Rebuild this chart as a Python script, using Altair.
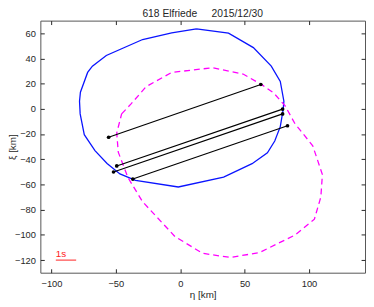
import altair as alt
import pandas as pd

# Blue solid outline (eta, xi) in km
blue_eta = [12.6, 37.5, 56.8, 70.7, 77.7, 80.5, 80.0, 77.7, 73.4, 67.7, 55.8, 33.7, -1.5,
            -34.7, -46.8, -56.8, -66.2, -74.5, -77.7, -78.2, -77.5, -71.9, -68.2, -57.4, -29.2, -6.6, 12.6]
blue_xi = [63.5, 60.0, 48.6, 33.9, 21.8, 6.1, -0.2, -14.1, -25.5, -34.9, -43.5, -54.1, -62.0,
           -56.7, -51.6, -43.3, -33.1, -20.5, -4.0, 6.0, 13.2, 28.9, 33.9, 42.3, 55.0, 60.3, 63.5]

# Magenta dashed outline
mag_eta = [-45.5, -38.0, -26.6, -6.6, 24.9, 48.8, 63.9, 72.7, 81.5, 89.0, 102.9, 110.4, 109.2,
           104.2, 89.0, 61.4, 38.7, 17.4, -4.0, -29.2, -40.5, -48.1, -49.3, -45.5]
mag_xi = [-4.0, 4.1, 17.5, 28.9, 32.6, 27.6, 18.8, 12.5, 2.3, -11.6, -29.3, -52.1, -69.9,
          -87.5, -100.2, -114.1, -117.9, -114.6, -101.4, -73.7, -54.7, -34.4, -19.2, -4.0]

# Chords
chord_eta1 = [-55.6, -49.3, -51.8, -36.8]
chord_xi1 = [-22.5, -45.3, -50.1, -55.7]
chord_eta2 = [62.6, 79.5, 79.5, 83.3]
chord_xi2 = [19.3, -0.2, -4.0, -13.4]

# Scale bar
bar_eta = [-96.6, -80.8]
bar_xi = [-120.0]
bar_label = ["1s"]

x_ticks = [-100, -50, 0, 50, 100]
y_ticks = [-120, -100, -80, -60, -40, -20, 0, 20, 40, 60]

FONT = "Liberation Sans"
TXT = "#262626"
xs = alt.Scale(domain=[-108.6, 143.5], nice=False, zero=False)
ys = alt.Scale(domain=[-130, 70], nice=False, zero=False)

blue_df = pd.DataFrame({"eta": blue_eta, "xi": blue_xi, "i": range(len(blue_eta))})
mag_df = pd.DataFrame({"eta": mag_eta, "xi": mag_xi, "i": range(len(mag_eta))})
chord_df = pd.DataFrame({"e1": chord_eta1, "x1": chord_xi1, "e2": chord_eta2, "x2": chord_xi2})
pts_df = pd.DataFrame({"eta": chord_eta1 + chord_eta2, "xi": chord_xi1 + chord_xi2})
bar_df = pd.DataFrame({"e1": [bar_eta[0]], "e2": [bar_eta[1]], "xi": bar_xi, "t": bar_label})

common_axis = dict(domain=False, grid=False, tickSize=4, offset=-4, tickColor=TXT,
                   labelColor=TXT, labelFont=FONT, labelFontSize=9.5, titleFont=FONT,
                   titleFontSize=10, titleFontWeight="normal", titleColor=TXT)

ax_bottom = alt.Axis(orient="bottom", values=x_ticks, labelPadding=6, title="η [km]",
                     titlePadding=2, **common_axis)
ax_left = alt.Axis(orient="left", values=y_ticks, labelPadding=5, title="ξ [km]",
                   titleX=-32, titleBaseline="middle", **common_axis)
ax_top = alt.Axis(orient="top", values=x_ticks, labels=False, title=None, **common_axis)
ax_right = alt.Axis(orient="right", values=y_ticks, labels=False, title=None, **common_axis)

blue = alt.Chart(blue_df).mark_line(color="#0a14ff", strokeWidth=1.3).encode(
    x=alt.X("eta:Q", scale=xs, axis=ax_bottom),
    y=alt.Y("xi:Q", scale=ys, axis=ax_left),
    order="i:Q")

mag = alt.Chart(mag_df).mark_line(color="#ff00ff", strokeWidth=1.3, strokeDash=[6, 4]).encode(
    x=alt.X("eta:Q", scale=xs, axis=ax_top),
    y=alt.Y("xi:Q", scale=ys, axis=ax_right),
    order="i:Q")

chords = alt.Chart(chord_df).mark_rule(color="black", strokeWidth=1.2).encode(
    x=alt.X("e1:Q", scale=xs, axis=None), y=alt.Y("x1:Q", scale=ys, axis=None),
    x2="e2:Q", y2="x2:Q")

pts = alt.Chart(pts_df).mark_circle(color="black", size=14, opacity=1).encode(
    x=alt.X("eta:Q", scale=xs, axis=None), y=alt.Y("xi:Q", scale=ys, axis=None))

bar = alt.Chart(bar_df).mark_rule(color="#ff2020", strokeWidth=1).encode(
    x=alt.X("e1:Q", scale=xs, axis=None), x2="e2:Q", y=alt.Y("xi:Q", scale=ys, axis=None))

bar_txt = alt.Chart(bar_df).mark_text(color="#ff2020", align="left", baseline="bottom",
                                      font=FONT, fontSize=10, dy=-1).encode(
    x=alt.X("e1:Q", scale=xs, axis=None), y=alt.Y("xi:Q", scale=ys, axis=None), text="t:N")

chart = alt.layer(blue, mag, chords, pts, bar, bar_txt).resolve_axis(
    x="independent", y="independent"
).properties(
    width=331, height=257,
    autosize=alt.AutoSizeParams(type="none"),
    padding={"left": 33, "top": 10, "right": 1, "bottom": 27},
    title=alt.TitleParams("618 Elfriede\u00a0\u00a0\u00a0\u00a0\u00a02015/12/30", font=FONT,
                          fontSize=10.5, fontWeight="normal", color=TXT, offset=1,
                          anchor="middle"),
).configure_view(stroke="#555555", strokeWidth=1)

chart.save("out.html", embed_options={"renderer": "svg", "actions": False})
